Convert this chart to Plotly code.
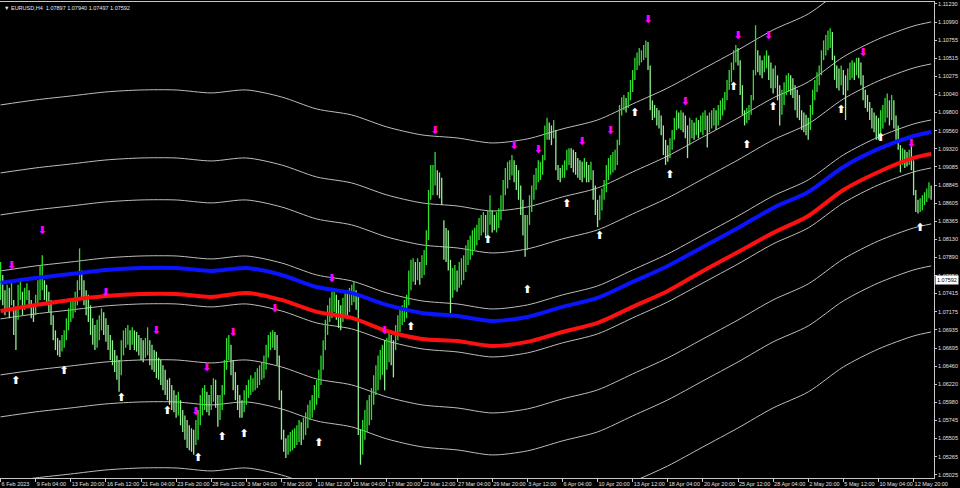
import plotly.graph_objects as go

# ---------------- data ----------------
highs = [
    1.0783, 1.0766, 1.0746, 1.0753, 1.0749, 1.0759, 1.0733, 1.0720, 1.0753, 1.0762,
    1.0744, 1.0749, 1.0755, 1.0746, 1.0733, 1.0726, 1.0740, 1.0759, 1.0779, 1.0792,
    1.0759, 1.0753, 1.0744, 1.0733, 1.0713, 1.0693, 1.0683, 1.0680, 1.0687, 1.0693,
    1.0709, 1.0722, 1.0733, 1.0733, 1.0744, 1.0759, 1.0801, 1.0772, 1.0759, 1.0746,
    1.0740, 1.0726, 1.0709, 1.0700, 1.0707, 1.0713, 1.0722, 1.0717, 1.0709, 1.0700,
    1.0687, 1.0680, 1.0667, 1.0660, 1.0654, 1.0680, 1.0693, 1.0696, 1.0700, 1.0693,
    1.0697, 1.0693, 1.0691, 1.0687, 1.0683, 1.0680, 1.0683, 1.0697, 1.0680, 1.0674,
    1.0667, 1.0665, 1.0657, 1.0654, 1.0647, 1.0641, 1.0628, 1.0630, 1.0621, 1.0614,
    1.0608, 1.0612, 1.0601, 1.0588, 1.0581, 1.0575, 1.0568, 1.0564, 1.0562, 1.0575,
    1.0588, 1.0608, 1.0617, 1.0621, 1.0612, 1.0608, 1.0621, 1.0630, 1.0628, 1.0608,
    1.0608, 1.0621, 1.0654, 1.0683, 1.0687, 1.0674, 1.0654, 1.0638, 1.0621, 1.0608,
    1.0601, 1.0614, 1.0621, 1.0628, 1.0634, 1.0630, 1.0638, 1.0643, 1.0647, 1.0651,
    1.0660, 1.0674, 1.0687, 1.0691, 1.0693, 1.0691, 1.0687, 1.0660, 1.0614, 1.0562,
    1.0551, 1.0555, 1.0559, 1.0562, 1.0564, 1.0568, 1.0575, 1.0572, 1.0578, 1.0585,
    1.0595, 1.0601, 1.0608, 1.0621, 1.0628, 1.0641, 1.0660, 1.0680, 1.0707, 1.0726,
    1.0736, 1.0744, 1.0746, 1.0740, 1.0733, 1.0726, 1.0736, 1.0744, 1.0746, 1.0749,
    1.0753, 1.0757, 1.0746, 1.0740, 1.0562, 1.0575, 1.0588, 1.0601, 1.0608, 1.0617,
    1.0634, 1.0647, 1.0660, 1.0667, 1.0674, 1.0680, 1.0683, 1.0691, 1.0687, 1.0680,
    1.0700, 1.0713, 1.0722, 1.0726, 1.0733, 1.0740, 1.0772, 1.0786, 1.0788, 1.0783,
    1.0788, 1.0783, 1.0792, 1.0799, 1.0825, 1.0878, 1.0911, 1.0911, 1.0928, 1.0904,
    1.0901, 1.0894, 1.0838, 1.0828, 1.0825, 1.0786, 1.0775, 1.0779, 1.0772, 1.0783,
    1.0788, 1.0792, 1.0805, 1.0812, 1.0818, 1.0825, 1.0828, 1.0832, 1.0841, 1.0845,
    1.0849, 1.0845, 1.0851, 1.0871, 1.0851, 1.0845, 1.0849, 1.0854, 1.0871, 1.0891,
    1.0907, 1.0915, 1.0917, 1.0924, 1.0917, 1.0911, 1.0904, 1.0884, 1.0865, 1.0845,
    1.0845, 1.0871, 1.0884, 1.0898, 1.0907, 1.0917, 1.0915, 1.0924, 1.0963, 1.0973,
    1.0967, 1.0963, 1.0970, 1.0957, 1.0911, 1.0907, 1.0911, 1.0917, 1.0931, 1.0933,
    1.0933, 1.0931, 1.0928, 1.0920, 1.0917, 1.0915, 1.0920, 1.0915, 1.0911, 1.0915,
    1.0904, 1.0884, 1.0865, 1.0871, 1.0880, 1.0891, 1.0911, 1.0920, 1.0924, 1.0928,
    1.0931, 1.0944, 1.0990, 1.1000, 1.1003, 1.0999, 1.1007, 1.1023, 1.1036, 1.1052,
    1.1059, 1.1065, 1.1062, 1.1069, 1.1075, 1.1073, 1.1042, 1.0996, 1.0990, 1.0986,
    1.0983, 1.0976, 1.0963, 1.0944, 1.0937, 1.0946, 1.0957, 1.0973, 1.0983, 1.0980,
    1.0983, 1.0980, 1.0976, 1.0963, 1.0973, 1.0970, 1.0967, 1.0973, 1.0970, 1.0976,
    1.0980, 1.0983, 1.0976, 1.0980, 1.0983, 1.0986, 1.0983, 1.0990, 1.0996, 1.0999,
    1.1007, 1.1023, 1.1036, 1.1046, 1.1062, 1.1069, 1.1065, 1.1049, 1.1016, 1.0983,
    1.0986, 1.0990, 1.1003, 1.1036, 1.1095, 1.1062, 1.1055, 1.1049, 1.1055, 1.1062,
    1.1055, 1.1046, 1.1038, 1.1042, 1.1029, 1.1016, 1.1010, 1.1020, 1.1029, 1.1032,
    1.1029, 1.1025, 1.1016, 1.1010, 1.1003, 1.0983, 1.0980, 1.0977, 1.0973, 1.0990,
    1.1010, 1.1023, 1.1033, 1.1042, 1.1062, 1.1075, 1.1082, 1.1088, 1.1091, 1.1086,
    1.1055, 1.1042, 1.1038, 1.1042, 1.1036, 1.1029, 1.1038, 1.1046, 1.1049, 1.1046,
    1.1052, 1.1052, 1.1046, 1.1029, 1.1010, 1.1003, 1.0994, 1.0986, 1.0980, 1.0976,
    1.0973, 1.0983, 1.0990, 1.0999, 1.1005, 1.0996, 1.1003, 1.0996, 1.0976, 1.0963,
    1.0937, 1.0933, 1.0931, 1.0928, 1.0931, 1.0937, 1.0917, 1.0878, 1.0865, 1.0867,
    1.0871, 1.0875, 1.0880, 1.0888, 1.0884,
]
lows = [
    1.0733, 1.0726, 1.0713, 1.0720, 1.0709, 1.0726, 1.0687, 1.0667, 1.0707, 1.0733,
    1.0713, 1.0720, 1.0733, 1.0722, 1.0709, 1.0704, 1.0713, 1.0726, 1.0733, 1.0746,
    1.0733, 1.0726, 1.0717, 1.0700, 1.0680, 1.0667, 1.0660, 1.0658, 1.0665, 1.0670,
    1.0680, 1.0693, 1.0704, 1.0709, 1.0717, 1.0726, 1.0746, 1.0733, 1.0726, 1.0713,
    1.0704, 1.0687, 1.0674, 1.0667, 1.0670, 1.0680, 1.0693, 1.0687, 1.0678, 1.0667,
    1.0654, 1.0647, 1.0638, 1.0628, 1.0612, 1.0634, 1.0660, 1.0670, 1.0674, 1.0667,
    1.0674, 1.0667, 1.0665, 1.0660, 1.0654, 1.0651, 1.0657, 1.0660, 1.0647, 1.0641,
    1.0638, 1.0630, 1.0628, 1.0621, 1.0614, 1.0608, 1.0601, 1.0595, 1.0588, 1.0585,
    1.0578, 1.0581, 1.0568, 1.0559, 1.0549, 1.0538, 1.0535, 1.0533, 1.0529, 1.0542,
    1.0549, 1.0568, 1.0581, 1.0588, 1.0585, 1.0581, 1.0588, 1.0599, 1.0591, 1.0566,
    1.0575, 1.0588, 1.0608, 1.0641, 1.0654, 1.0634, 1.0614, 1.0601, 1.0588, 1.0578,
    1.0578, 1.0585, 1.0595, 1.0604, 1.0608, 1.0612, 1.0614, 1.0617, 1.0621, 1.0628,
    1.0630, 1.0641, 1.0657, 1.0667, 1.0670, 1.0667, 1.0647, 1.0601, 1.0549, 1.0533,
    1.0525, 1.0529, 1.0533, 1.0535, 1.0538, 1.0542, 1.0546, 1.0542, 1.0549, 1.0555,
    1.0564, 1.0575, 1.0578, 1.0588, 1.0595, 1.0604, 1.0621, 1.0641, 1.0667, 1.0687,
    1.0704, 1.0709, 1.0717, 1.0707, 1.0696, 1.0693, 1.0704, 1.0713, 1.0709, 1.0717,
    1.0726, 1.0730, 1.0720, 1.0555, 1.0516, 1.0529, 1.0549, 1.0559, 1.0568, 1.0575,
    1.0595, 1.0608, 1.0614, 1.0628, 1.0634, 1.0614, 1.0641, 1.0651, 1.0647, 1.0631,
    1.0667, 1.0680, 1.0691, 1.0700, 1.0704, 1.0709, 1.0726, 1.0746, 1.0757, 1.0753,
    1.0759, 1.0753, 1.0762, 1.0766, 1.0779, 1.0812, 1.0865, 1.0871, 1.0884, 1.0871,
    1.0867, 1.0858, 1.0786, 1.0783, 1.0772, 1.0716, 1.0736, 1.0746, 1.0744, 1.0749,
    1.0753, 1.0759, 1.0770, 1.0779, 1.0786, 1.0792, 1.0799, 1.0805, 1.0812, 1.0818,
    1.0822, 1.0815, 1.0818, 1.0832, 1.0822, 1.0825, 1.0822, 1.0828, 1.0838, 1.0851,
    1.0871, 1.0880, 1.0891, 1.0897, 1.0888, 1.0878, 1.0865, 1.0845, 1.0818, 1.0790,
    1.0799, 1.0832, 1.0849, 1.0865, 1.0878, 1.0888, 1.0891, 1.0898, 1.0917, 1.0944,
    1.0944, 1.0937, 1.0946, 1.0904, 1.0891, 1.0888, 1.0894, 1.0894, 1.0904, 1.0911,
    1.0907, 1.0901, 1.0898, 1.0894, 1.0891, 1.0888, 1.0894, 1.0888, 1.0888, 1.0891,
    1.0865, 1.0845, 1.0829, 1.0838, 1.0851, 1.0865, 1.0875, 1.0891, 1.0898, 1.0901,
    1.0904, 1.0911, 1.0937, 1.0976, 1.0983, 1.0980, 1.0986, 1.0996, 1.1007, 1.1023,
    1.1036, 1.1042, 1.1046, 1.1049, 1.1052, 1.1036, 1.0983, 1.0970, 1.0973, 1.0963,
    1.0959, 1.0950, 1.0924, 1.0911, 1.0915, 1.0920, 1.0931, 1.0944, 1.0957, 1.0959,
    1.0957, 1.0954, 1.0946, 1.0920, 1.0937, 1.0946, 1.0944, 1.0950, 1.0946, 1.0954,
    1.0950, 1.0957, 1.0934, 1.0954, 1.0959, 1.0963, 1.0957, 1.0963, 1.0970, 1.0976,
    1.0983, 1.0996, 1.1010, 1.1020, 1.1036, 1.1046, 1.1042, 1.1003, 1.0977, 1.0963,
    1.0966, 1.0970, 1.0977, 1.0996, 1.1029, 1.1033, 1.1029, 1.1025, 1.1033, 1.1038,
    1.1023, 1.1012, 1.1005, 1.1012, 1.0996, 1.0963, 1.0977, 1.0990, 1.1003, 1.1007,
    1.1003, 1.0999, 1.0983, 1.0973, 1.0970, 1.0957, 1.0954, 1.0950, 1.0944, 1.0957,
    1.0977, 1.0996, 1.1007, 1.1016, 1.1029, 1.1049, 1.1055, 1.1062, 1.1065, 1.1049,
    1.1023, 1.1012, 1.1009, 1.1016, 1.1003, 1.0970, 1.1009, 1.1023, 1.1025, 1.1023,
    1.1029, 1.1025, 1.1016, 1.0996, 1.0986, 1.0981, 1.0970, 1.0959, 1.0954, 1.0944,
    1.0944, 1.0950, 1.0959, 1.0967, 1.0973, 1.0963, 1.0970, 1.0959, 1.0944, 1.0931,
    1.0901, 1.0911, 1.0907, 1.0909, 1.0911, 1.0904, 1.0871, 1.0849, 1.0847, 1.0849,
    1.0851, 1.0858, 1.0862, 1.0867, 1.0865,
]

# moving averages sampled at the time-axis ticks (bar numbers)
ma_bars = [0, 16, 32, 48, 64, 80, 96, 112, 128, 144, 160, 176, 192, 208,
           224, 240, 256, 272, 288, 304, 320, 336, 352, 368, 384, 400, 416, 424]
blue_ma = [1.07555, 1.07621, 1.07673, 1.07726, 1.07752, 1.07752, 1.07713, 1.07752,
           1.07660, 1.07502, 1.07423, 1.07265, 1.07160, 1.07120, 1.07054, 1.07107,
           1.07239, 1.07357, 1.07568, 1.07779, 1.08029, 1.08279, 1.08543, 1.08754,
           1.09083, 1.09320, 1.09491, 1.09544]
red_ma = [1.07186, 1.07265, 1.07331, 1.07383, 1.07410, 1.07410, 1.07370, 1.07423,
          1.07331, 1.07173, 1.07094, 1.06922, 1.06817, 1.06791, 1.06725, 1.06778,
          1.06909, 1.07028, 1.07239, 1.07449, 1.07713, 1.07963, 1.08214, 1.08437,
          1.08780, 1.09017, 1.09202, 1.09254]
# grey channel levels, as distance from the blue average
band_offsets = [0.02345, 0.01449, 0.00896, 0.00158, -0.00474, -0.01212, -0.01765, -0.02635]

down_bars = [5, 19, 48, 71, 89, 94, 106, 125, 151, 175, 198, 234, 245, 265, 278,
             295, 312, 336, 350, 393, 415]
down_prices = [1.07779, 1.08240, 1.07423, 1.06922, 1.05855, 1.06435, 1.06896, 1.07212,
               1.07608, 1.06922, 1.09557, 1.09360, 1.09307, 1.09412, 1.09557, 1.11020,
               1.09939, 1.10809, 1.10809, 1.10585, 1.09386]
up_bars = [7, 29, 55, 76, 90, 101, 111, 145, 187, 222, 240, 258, 273, 289, 305,
           334, 340, 352, 383, 401, 419]
up_prices = [1.06264, 1.06395, 1.06040, 1.05868, 1.05249, 1.05526, 1.05566, 1.05447,
             1.06975, 1.08121, 1.07462, 1.08596, 1.08174, 1.09794, 1.08978, 1.10137,
             1.09373, 1.09873, 1.09834, 1.09465, 1.08279]

tick_bars = [0, 16, 32, 48, 64, 80, 96, 112, 128, 144, 160, 176, 192, 208, 224,
             240, 256, 272, 288, 304, 320, 336, 352, 368, 384, 400, 416]
tick_labels = ["6 Feb 2023", "9 Feb 04:00", "13 Feb 20:00", "16 Feb 12:00",
               "21 Feb 04:00", "23 Feb 20:00", "28 Feb 12:00", "3 Mar 04:00",
               "7 Mar 20:00", "10 Mar 12:00", "15 Mar 04:00", "17 Mar 20:00",
               "22 Mar 12:00", "27 Mar 04:00", "29 Mar 20:00", "3 Apr 12:00",
               "6 Apr 04:00", "10 Apr 20:00", "13 Apr 12:00", "18 Apr 04:00",
               "20 Apr 20:00", "25 Apr 12:00", "28 Apr 04:00", "2 May 20:00",
               "5 May 12:00", "10 May 04:00", "12 May 20:00"]
price_ticks = [1.11230, 1.10990, 1.10755, 1.10515, 1.10275, 1.10040, 1.09800,
               1.09560, 1.09320, 1.09085, 1.08845, 1.08605, 1.08365, 1.08130,
               1.07890, 1.07650, 1.07415, 1.07175, 1.06935, 1.06695, 1.06460,
               1.06220, 1.05980, 1.05745, 1.05505, 1.05265, 1.05025]
last_price = 1.07592
title_text = "\u25BC EURUSD,H4  1.07897 1.07940 1.07497 1.07592"

# ---------------- figure ----------------
FONT = "Liberation Sans, Arial, sans-serif"
FS = 5.5
fig = go.Figure()

# grey channel lines
for off in band_offsets:
    fig.add_trace(go.Scatter(
        x=ma_bars, y=[v + off for v in blue_ma], mode="lines",
        line=dict(color="#bdbdbd", width=1, shape="spline", smoothing=0.8),
        hoverinfo="skip"))

# price bars (vertical high-low strokes)
up_x, up_y, dn_x, dn_y = [], [], [], []
for i, (h, l) in enumerate(zip(highs, lows)):
    rising = i == 0 or (h + l) >= (highs[i - 1] + lows[i - 1])
    xs, ys = (up_x, up_y) if rising else (dn_x, dn_y)
    xs += [i, i, None]
    ys += [l, h, None]
fig.add_trace(go.Scatter(x=dn_x, y=dn_y, mode="lines",
                         line=dict(color="#8ff08f", width=1.3), hoverinfo="skip"))
fig.add_trace(go.Scatter(x=up_x, y=up_y, mode="lines",
                         line=dict(color="#2fe02f", width=1.3), hoverinfo="skip"))

# moving averages
fig.add_trace(go.Scatter(x=ma_bars, y=blue_ma, mode="lines",
                         line=dict(color="#0a14ff", width=4, shape="spline", smoothing=0.8),
                         hoverinfo="skip"))
fig.add_trace(go.Scatter(x=ma_bars, y=red_ma, mode="lines",
                         line=dict(color="#ff1010", width=4, shape="spline", smoothing=0.8),
                         hoverinfo="skip"))

# signal arrows
fig.add_trace(go.Scatter(x=down_bars, y=down_prices, mode="text",
                         text=["\u2B07"] * len(down_bars), textposition="middle center",
                         textfont=dict(color="#ff00ff", size=11, family="DejaVu Sans",
                                       weight="bold"),
                         hoverinfo="skip"))
fig.add_trace(go.Scatter(x=up_bars, y=up_prices, mode="text",
                         text=["\u2B06"] * len(up_bars), textposition="middle center",
                         textfont=dict(color="#ffffff", size=11, family="DejaVu Sans",
                                       weight="bold"),
                         hoverinfo="skip"))

fig.update_layout(
    width=960, height=488,
    margin=dict(l=0, r=26, t=2, b=10, autoexpand=False),
    paper_bgcolor="black", plot_bgcolor="black",
    showlegend=False,
    font=dict(family=FONT, size=FS, color="#e0e0e0"),
    xaxis=dict(range=[-0.25, 425.3], tickvals=tick_bars, ticktext=tick_labels,
               tickangle=0, automargin=False,
               ticks="outside", ticklen=3, tickcolor="#c8c8c8",
               ticklabelposition="outside right",
               showgrid=False, zeroline=False, showline=True, linecolor="#c8c8c8",
               linewidth=1, mirror=True, fixedrange=True,
               tickfont=dict(family=FONT, size=FS, color="#e0e0e0")),
    yaxis=dict(side="right", range=[1.04985, 1.11256], tickvals=price_ticks,
               ticktext=[f"{v:.5f}" for v in price_ticks], automargin=False,
               ticks="outside", ticklen=2, tickcolor="#c8c8c8",
               showgrid=False, zeroline=False, showline=True, linecolor="#c8c8c8",
               linewidth=1, fixedrange=True,
               tickfont=dict(family=FONT, size=FS, color="#e0e0e0")),
    annotations=[
        dict(xref="paper", yref="paper", x=0, y=1, xanchor="left", yanchor="top",
             xshift=2, yshift=-1, text=title_text, showarrow=False,
             font=dict(family=FONT, size=FS, color="#e8e8e8")),
        dict(xref="paper", yref="y", x=1, y=last_price, xanchor="left", yanchor="middle",
             xshift=1, text=f"{last_price:.5f}", showarrow=False,
             bgcolor="#ffffff", borderpad=1,
             font=dict(family=FONT, size=FS, color="#000000")),
    ],
)

fig.write_html("out.html", config={"displayModeBar": False},
               post_script="document.body.style.margin='0';document.body.style.overflow='hidden';")
